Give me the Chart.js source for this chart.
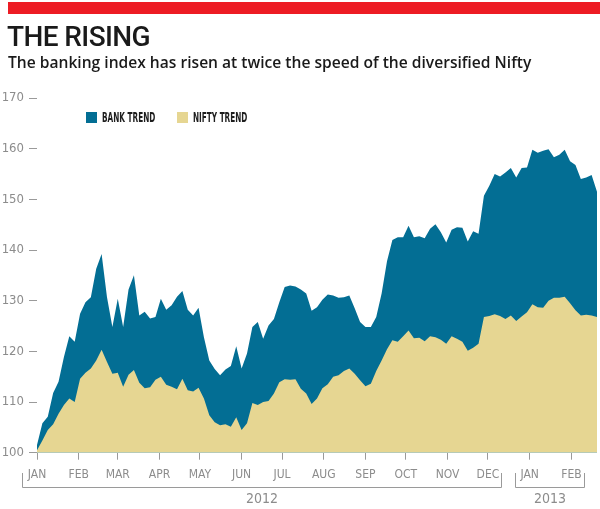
<!DOCTYPE html>
<html>
<head>
<meta charset="utf-8">
<script src="https://cdn.jsdelivr.net/npm/chart.js@4.4.1/dist/chart.umd.min.js"></script>
<style>
  body { margin: 0; background: #fff; }
  #wrap { position: relative; width: 600px; height: 509px; }
  #bar { position: absolute; left: 8px; top: 2px; width: 592px; height: 12px; background: #ed1c24; }
  #title { position: absolute; left: 7px; top: 23px; font: 500 28px/28px Roboto, sans-serif; letter-spacing: -0.6px; color: #1a1a1a; white-space: nowrap; z-index: 2; }
  #sub { position: absolute; left: 8px; top: 55px; font: 600 15.6px/15px "Open Sans", sans-serif; color: #1a1a1a; white-space: nowrap; z-index: 2; }
  #chart { position: absolute; left: 0; top: 0; }
</style>
</head>
<body>
<div id="wrap">
  <div id="bar"></div>
  <div id="title">THE RISING</div>
  <div id="sub">The banking index has risen at twice the speed of the diversified Nifty</div>
  <canvas id="chart" width="600" height="509"></canvas>
</div>
<script>
// index values, rebased to 100 at the start of Jan 2012, one reading every 4 days
let bank = [101.5,105.8,107.1,111.8,114.0,118.9,123.0,121.9,127.4,129.7,
  130.7,136.3,139.2,130.7,124.8,130.4,124.8,132.2,135.0,127.1,
  127.8,126.5,126.8,130.4,128.2,129.1,130.8,131.9,128.2,127.1,
  128.6,122.8,118.2,116.5,115.3,116.4,117.1,121.0,116.6,119.6,
  124.8,125.8,122.5,125.1,126.4,129.7,132.7,133.0,132.8,132.2,
  131.4,128.0,128.7,130.2,131.2,131.0,130.6,130.7,131.0,128.5,
  125.8,124.8,124.8,126.8,131.4,137.8,142.0,142.5,142.5,144.8,
  142.5,142.7,142.3,144.2,145.1,143.5,141.5,144.0,144.5,144.4,
  141.7,143.7,143.2,150.7,152.7,155.0,154.5,155.3,156.2,154.3,
  156.2,156.3,159.8,159.2,159.6,159.9,158.3,158.8,159.8,157.5,
  156.8,154.0,154.3,154.8,151.5]
let nifty = [100.5,102.4,104.5,105.6,107.7,109.4,110.7,110.0,114.6,115.8,
  116.6,118.2,120.3,117.9,115.6,115.8,113.0,115.4,116.3,113.8,
  112.7,112.9,114.4,115.0,113.4,113.0,112.5,114.6,112.3,112.1,
  112.8,110.7,107.4,106.0,105.4,105.6,105.1,107.0,104.5,105.8,
  109.8,109.4,110.0,110.2,111.7,113.9,114.5,114.4,114.5,112.6,
  111.7,109.6,110.7,112.7,113.5,115.0,115.3,116.1,116.6,115.6,
  114.3,113.1,113.6,116.1,118.2,120.4,122.2,121.9,123.0,124.1,
  122.6,122.7,122.0,123.0,122.8,122.3,121.5,123.0,122.5,121.9,
  120.1,120.7,121.5,126.8,127.0,127.3,127.0,126.4,127.1,126.0,
  126.9,127.7,129.3,128.7,128.6,130.0,130.6,130.6,130.8,129.5,
  128.1,127.1,127.2,127.1,126.8]
const STEP = 4 // days between readings
let days = bank.map((v, i) => i * STEP)

// month ticks (day offset from 1 Jan 2012)
let monthDays = [0,31,60,91,121,152,182,213,244,274,305,335,366,397]
let monthLabels = ["JAN","FEB","MAR","APR","MAY","JUN","JUL","AUG","SEP","OCT","NOV","DEC","JAN","FEB"]
let years = ["2012","2013"]
let yearFirst = [0, 12]
let yearLast = [11, 13]
let yTicks = [100,110,120,130,140,150,160,170]

const BLUE = "#036e94"
const SAND = "#e6d692"
const GREY = "#8c8c8c"
const NARROW = '"Liberation Sans Narrow", "DejaVu Sans Condensed", sans-serif'

// legend drawn inside the plot, top left
const legendBoxes = {
    id: 'legendBoxes',
    afterDraw(chart) {
        const ctx = chart.ctx
        const pos = [86, 177]
        ctx.save()
        chart.data.datasets.forEach((ds, i) => {
            ctx.fillStyle = ds.backgroundColor
            ctx.fillRect(pos[i], 112, 11, 11)
            ctx.save()
            ctx.translate(pos[i] + 16, 118)
            ctx.scale(0.58, 1)
            ctx.fillStyle = "#1e1e1e"
            ctx.font = 'bold 14px ' + NARROW
            ctx.textBaseline = 'middle'
            ctx.fillText(ds.label, 0, 0)
            ctx.restore()
        })
        ctx.restore()
    }
}

// brackets grouping the months under each year
const yearBrackets = {
    id: 'yearBrackets',
    afterDraw(chart) {
        const ctx = chart.ctx
        const x = chart.scales.x
        ctx.save()
        ctx.strokeStyle = "#9a9a9a"
        ctx.lineWidth = 1
        ctx.fillStyle = GREY
        ctx.font = '14px ' + NARROW
        ctx.textAlign = 'center'
        ctx.textBaseline = 'middle'
        years.forEach((yr, i) => {
            const x0 = Math.round(x.getPixelForValue(monthDays[yearFirst[i]]) - 15) + 0.5
            const x1 = Math.round(x.getPixelForValue(monthDays[yearLast[i]]) + 13) + 0.5
            ctx.beginPath()
            ctx.moveTo(x0, 473)
            ctx.lineTo(x0, 487.5)
            ctx.lineTo(x1, 487.5)
            ctx.lineTo(x1, 473)
            ctx.stroke()
            ctx.fillText(yr, (x0 + x1) / 2, 499)
        })
        ctx.restore()
    }
}

var ctx = document.getElementById('chart');
var chart = new Chart(ctx, {
    type: 'line',
    data: {
        datasets: [
            {
                label: "BANK TREND",
                data: days.map((d, i) => ({x: d, y: bank[i]})),
                backgroundColor: BLUE,
                borderWidth: 0,
                fill: 'start',
                order: 1
            },
            {
                label: "NIFTY TREND",
                data: days.map((d, i) => ({x: d, y: nifty[i]})),
                backgroundColor: SAND,
                borderWidth: 0,
                fill: 'start',
                order: 0
            }
        ]
    },
    options: {
        responsive: false,
        animation: false,
        layout: { padding: { top: 98, right: 3, left: 0, bottom: 0 } },
        elements: {
            point: { radius: 0 },
            line: { tension: 0 }
        },
        plugins: {
            legend: false,
            tooltip: false,
            title: { display: false }
        },
        scales: {
            x: {
                type: 'linear',
                min: 0,
                max: days[days.length - 1],
                afterBuildTicks: (scale) => { scale.ticks = monthDays.map(v => ({value: v})) },
                afterFit: (scale) => { scale.height = 56.3 },
                border: { display: false },
                grid: { drawOnChartArea: false, drawTicks: true, tickLength: 7, color: "#9a9a9a" },
                ticks: {
                    autoSkip: false,
                    maxRotation: 0,
                    padding: 8,
                    color: GREY,
                    font: { family: NARROW, size: 12 },
                    callback: (v, i) => monthLabels[i]
                }
            },
            y: {
                min: 100,
                max: 170,
                afterBuildTicks: (scale) => { scale.ticks = yTicks.map(v => ({value: v})) },
                afterFit: (scale) => { scale.width = 37 },
                border: { display: false },
                grid: { drawOnChartArea: false, drawTicks: true, tickLength: 8, color: "#9a9a9a" },
                ticks: {
                    padding: 5,
                    color: GREY,
                    font: { family: NARROW, size: 13 }
                }
            }
        }
    },
    plugins: [legendBoxes, yearBrackets]
});
</script>
</body>
</html>
